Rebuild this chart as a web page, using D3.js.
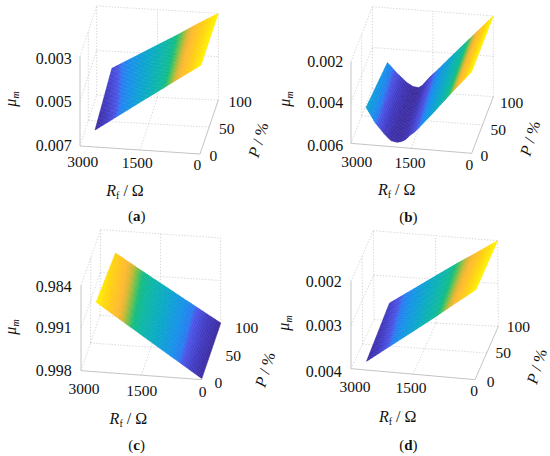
<!DOCTYPE html>
<html><head><meta charset="utf-8">
<style>html,body{margin:0;padding:0;background:#fff}svg{display:block}text{font-family:"Liberation Serif",serif;fill:#111}</style>
<script src="https://d3js.org/d3.v7.min.js"></script></head><body>
<script>
// ---- data ----
const rfTicks=[3000,1500,0];
const pTicks=[0,50,100];
const powerRows=[0,100];
const rfLinear=[2625,2000,1500,1000,500,0];
const rfValley=[2625,2400,2150,2000,1850,1750,1650,1550,1400,1000,500,0];
const zTicksA=[0.003,0.005,0.007];
const zTicksB=[0.002,0.004,0.006];
const zTicksC=[0.984,0.991,0.998];
const zTicksD=[0.002,0.003,0.004];
const muA_P0=[0.00376,0.00453,0.00515,0.00576,0.00638,0.00699];
const muA_P100=[0.00423,0.00487,0.00539,0.00591,0.00647,0.00700];
const muB_P0=[0.00382,0.00311,0.00255,0.00229,0.00224,0.00229,0.00240,0.00260,0.00285,0.00373,0.00489,0.00600];
const muB_P100=[0.00332,0.00285,0.00241,0.00223,0.00219,0.00233,0.00257,0.00280,0.00309,0.00393,0.00496,0.00600];
const muC_P0=[0.99543,0.99276,0.99062,0.98848,0.98634,0.98420];
const muC_P100=[0.99435,0.99186,0.98990,0.98793,0.98597,0.98400];
const muD_P0=[0.00220,0.00263,0.00297,0.00331,0.00366,0.00400];
const muD_P100=[0.00239,0.00277,0.00308,0.00339,0.00369,0.00400];
const colorStops=[0,0.10,0.20,0.225,0.30,0.45,0.60,0.66,0.70,0.75,0.80,0.90,1];
const colorValues=["#3a2a9e","#4038c0","#4a55e8","#2a78f0","#1590ea","#08a8c8","#0cb8a0","#12bc80","#60c050","#d0b830","#ffb830","#ffd010","#fff200"];

// ---- layout (in 3x units within each quadrant) ----
const panels=[
 {id:"a",ox:0,oy:0,rf:rfLinear,rows:[muA_P0,muA_P100],zt:zTicksA,
  f00:[240,438],f10:[600,462],f01:[290,285],f11:[655,300],t00:[240,170],t10:[603,195],t01:[290,18],t11:[655,40],
  zx:215,zy:[175,305,437],rl:[[248,485],[412,488],[592,495]],pl:[[640,467],[680,385],[720,305]],
  rLab:[375,572],pLab:[775,420],mu:[33,297],cap:[410,648]},
 {id:"b",ox:275,oy:0,rf:rfValley,rows:[muB_P0,muB_P100],zt:zTicksB,
  f00:[228,430],f10:[590,460],f01:[292,265],f11:[655,290],t00:[228,185],t10:[590,215],t01:[292,20],t11:[655,48],
  zx:205,zy:[185,308,437],rl:[[245,485],[405,488],[583,495]],pl:[[628,467],[670,388],[710,308]],
  rLab:[365,570],pLab:[765,415],mu:[28,297],cap:[400,650]},
 {id:"c",ox:0,oy:228,rf:rfLinear,rows:[muC_P0,muC_P100],zt:zTicksC,
  f00:[243,428],f10:[605,455],f01:[300,262],f11:[662,285],t00:[243,172],t10:[605,200],t01:[302,5],t11:[662,30],
  zx:215,zy:[177,300,427],rl:[[252,483],[425,487],[608,492]],pl:[[655,463],[700,382],[740,300]],
  rLab:[385,572],pLab:[795,425],mu:[33,297],cap:[410,650]},
 {id:"d",ox:275,oy:228,rf:rfLinear,rows:[muD_P0,muD_P100],zt:zTicksD,
  f00:[228,422],f10:[600,455],f01:[297,275],f11:[670,295],t00:[228,160],t10:[603,185],t01:[295,8],t11:[668,38],
  zx:200,zy:[160,292,432],rl:[[240,475],[408,480],[597,488]],pl:[[647,460],[685,375],[730,295]],
  rLab:[368,565],pLab:[785,415],mu:[25,285],cap:[400,650]}
];

const svg=d3.select("body").append("svg").attr("width",550).attr("height",456);
const uScale=d3.scaleLinear().domain([3000,0]).range([0,1]);
const vScale=d3.scaleLinear().domain([0,100]).range([0,1]);
const fmtZ=d3.format(".3f");
const GRID="#cfcfcf",AXIS="#c4c4c4";

panels.forEach(pn=>{
  const g=svg.append("g").attr("transform",`translate(${pn.ox},${pn.oy}) scale(${1/3})`);
  const zDomain=[pn.zt[0],pn.zt[2]];
  const wScale=d3.scaleLinear().domain(zDomain).range([0,1]);
  const bl=(a,b,c,d,u,v,i)=>a[i]*(1-u)*(1-v)+b[i]*u*(1-v)+c[i]*(1-u)*v+d[i]*u*v;
  const proj=(r,p,z)=>{
    const u=uScale(r),v=vScale(p),w=wScale(z);
    const out=[0,1].map(i=>{
      const f=bl(pn.f00,pn.f10,pn.f01,pn.f11,u,v,i),t=bl(pn.t00,pn.t10,pn.t01,pn.t11,u,v,i);
      return f+(t-f)*w;
    });
    return out;
  };
  const line=d3.line();
  const zMid=pn.zt[1],zLo=pn.zt[0],zHi=pn.zt[2];
  const gridLines=[
    [[3000,100,zLo],[3000,100,zHi]],[[1500,100,zLo],[1500,100,zHi]],[[0,100,zLo],[0,100,zHi]],
    [[3000,100,zMid],[0,100,zMid]],[[3000,100,zHi],[0,100,zHi]],[[3000,100,zLo],[0,100,zLo]],
    [[3000,50,zLo],[3000,50,zHi]],[[3000,0,zMid],[3000,100,zMid]],[[3000,0,zHi],[3000,100,zHi]],[[3000,0,zLo],[3000,100,zLo]],
    [[1500,0,zLo],[1500,100,zLo]],[[3000,50,zLo],[0,50,zLo]]
  ];
  g.append("g").selectAll("path").data(gridLines).join("path")
    .attr("d",d=>line(d.map(a=>proj(...a)))).attr("fill","none")
    .attr("stroke",GRID).attr("stroke-width",2.6).attr("stroke-dasharray","4 5");
  const axes=[[[3000,0,zLo],[3000,0,zHi]],[[3000,0,zLo],[0,0,zLo]],[[0,0,zLo],[0,100,zLo]]];
  g.append("g").selectAll("path").data(axes).join("path")
    .attr("d",d=>line(d.map(a=>proj(...a)))).attr("fill","none")
    .attr("stroke",AXIS).attr("stroke-width",3);

  // surface: interpolated shading between the read values
  const all=pn.rows.flat();
  const norm=d3.scaleLinear().domain(d3.extent(all)).range([0,1]);
  const col=d3.scaleLinear().domain(colorStops).range(colorValues).interpolate(d3.interpolateRgb).clamp(true);
  const cells=[];
  const NP=8;
  for(let i=0;i<pn.rf.length-1;i++){
    const n=Math.max(2,Math.ceil((uScale(pn.rf[i+1])-uScale(pn.rf[i]))*90));
    for(let a=0;a<n;a++)for(let b=0;b<NP;b++){
      const s0=a/n,s1=(a+1)/n,q0=b/NP,q1=(b+1)/NP;
      const at=(s,q)=>{
        const z0=pn.rows[0][i]*(1-s)+pn.rows[0][i+1]*s,z1=pn.rows[1][i]*(1-s)+pn.rows[1][i+1]*s;
        const r=pn.rf[i]*(1-s)+pn.rf[i+1]*s;
        const p=powerRows[0]*(1-q)+powerRows[1]*q;
        return {r,p,z:z0*(1-q)+z1*q};
      };
      const c=[at(s0,q0),at(s1,q0),at(s1,q1),at(s0,q1)].map(o=>proj(o.r,o.p,o.z));
      const m=at((s0+s1)/2,(q0+q1)/2);
      cells.push({c,fill:col(norm(m.z))});
    }
  }
  g.append("g").selectAll("path").data(cells).join("path")
    .attr("d",d=>line(d.c)+"Z").attr("fill",d=>d.fill).attr("stroke",d=>d.fill).attr("stroke-width",1.6);

  // labels
  const T=(x,y)=>{return g.append("text").attr("transform",`translate(${x},${y}) scale(3)`)};
  const txt=(x,y,s,anchor,size=16)=>T(x,y).attr("text-anchor",anchor).attr("dy","0.34em").attr("font-size",size).text(s);
  pn.zt.forEach((z,i)=>txt(pn.zx,pn.zy[i],fmtZ(z),"end"));
  rfTicks.forEach((r,i)=>txt(pn.rl[i][0],pn.rl[i][1],r,"middle",15.5));
  pTicks.forEach((p,i)=>txt(pn.pl[i][0],pn.pl[i][1],p,"middle",15.5));
  // R_f / Ω
  const rT=T(pn.rLab[0],pn.rLab[1]).attr("text-anchor","middle").attr("dy","0.34em").attr("font-size",16);
  rT.append("tspan").attr("font-style","italic").text("R");
  rT.append("tspan").attr("font-size",10).attr("dy",3).text("f");
  rT.append("tspan").attr("dy",-3).text(" / Ω");
  // P / %
  const pT=g.append("text").attr("transform",`translate(${pn.pLab[0]},${pn.pLab[1]}) rotate(-73) scale(3)`).attr("text-anchor","middle").attr("dy","0.34em").attr("font-size",16);
  pT.append("tspan").attr("font-style","italic").text("P");
  pT.append("tspan").text(" / %");
  // mu_m
  const mT=g.append("text").attr("transform",`translate(${pn.mu[0]},${pn.mu[1]}) rotate(-90) scale(3)`).attr("text-anchor","middle").attr("dy","0.34em").attr("font-size",16);
  mT.append("tspan").attr("font-style","italic").text("μ");
  mT.append("tspan").attr("font-style","italic").attr("font-size",10).attr("dy",3).text("m");
  // caption
  const cT=T(pn.cap[0],pn.cap[1]).attr("text-anchor","middle").attr("dy","0.34em").attr("font-size",15);
  cT.append("tspan").text("(");
  cT.append("tspan").attr("font-weight","bold").text(pn.id);
  cT.append("tspan").text(")");
});
</script></body></html>
